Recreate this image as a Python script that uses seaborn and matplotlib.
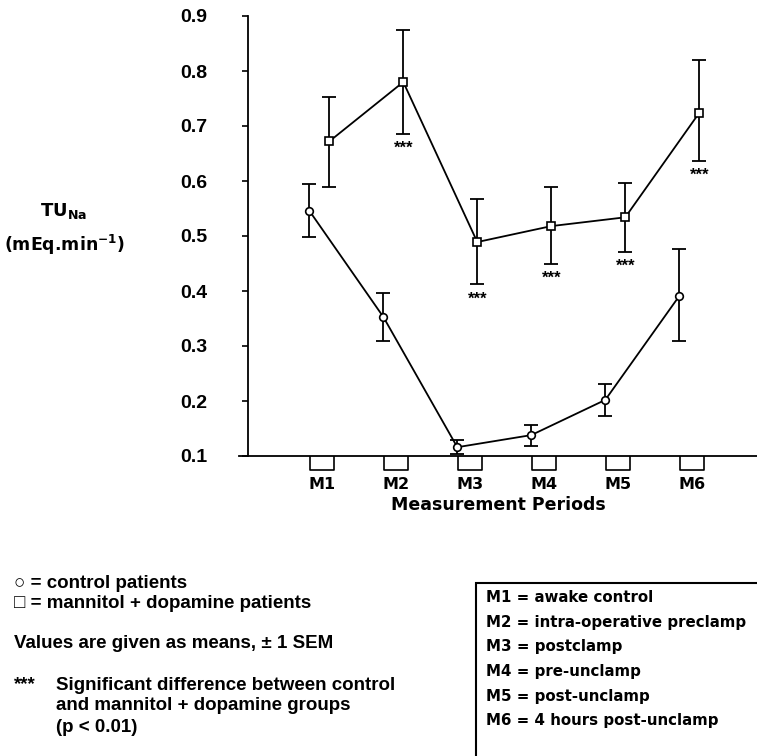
import numpy as np
import pandas as pd
import matplotlib
matplotlib.use("Agg")
import matplotlib.pyplot as plt
import seaborn as sns
from matplotlib.path import Path
from matplotlib.patches import Rectangle

# ---------------- data ----------------
periods = ["M1", "M2", "M3", "M4", "M5", "M6"]
control_mean = [0.546, 0.353, 0.116, 0.138, 0.202, 0.391]
control_upper = [0.595, 0.397, 0.129, 0.157, 0.231, 0.476]
control_lower = [0.498, 0.310, 0.104, 0.118, 0.172, 0.309]
mannitol_mean = [0.672, 0.780, 0.489, 0.518, 0.534, 0.724]
mannitol_upper = [0.753, 0.875, 0.568, 0.589, 0.597, 0.820]
mannitol_lower = [0.589, 0.685, 0.412, 0.449, 0.471, 0.636]
significant = [False, True, True, True, True, True]
y_ticks = [0.1, 0.2, 0.3, 0.4, 0.5, 0.6, 0.7, 0.8, 0.9]
period_desc = ["awake control", "intra-operative preclamp", "postclamp",
               "pre-unclamp", "post-unclamp", "4 hours post-unclamp"]

# ---------------- style ----------------
sns.set_theme(style="ticks")
plt.rcParams["font.family"] = ["DejaVu Sans"]
plt.rcParams["mathtext.fontset"] = "dejavusans"
for k in ("text.color", "axes.labelcolor", "xtick.color", "ytick.color", "axes.edgecolor"):
    plt.rcParams[k] = "black"

W, H = 757, 756
fig = plt.figure(figsize=(W / 100, H / 100), dpi=100)
fig.patch.set_facecolor("white")
ax = fig.add_axes([239 / W, 1 - 456 / H, 518 / W, 440 / H])
ax.set_facecolor("white")

pos = np.arange(1, len(periods) + 1)
off_c, off_m = -0.17, 0.10

df = pd.DataFrame({
    "x": np.concatenate([pos + off_c, pos + off_m]),
    "y": control_mean + mannitol_mean,
    "group": ["control"] * 6 + ["mannitol"] * 6,
})

# error bars
ax.errorbar(pos + off_c, control_mean,
            yerr=[np.array(control_mean) - np.array(control_lower),
                  np.array(control_upper) - np.array(control_mean)],
            fmt="none", ecolor="black", elinewidth=1.3, capsize=5, capthick=1.3, zorder=2)
ax.errorbar(pos + off_m, mannitol_mean,
            yerr=[np.array(mannitol_mean) - np.array(mannitol_lower),
                  np.array(mannitol_upper) - np.array(mannitol_mean)],
            fmt="none", ecolor="black", elinewidth=1.3, capsize=5, capthick=1.3, zorder=2)

sns.lineplot(data=df, x="x", y="y", hue="group", style="group",
             markers={"control": "o", "mannitol": "s"}, dashes=False,
             palette={"control": "black", "mannitol": "black"},
             legend=False, ax=ax, lw=1.3, markersize=5.5,
             markerfacecolor="white", markeredgecolor="black",
             markeredgewidth=1.2, zorder=3)

# significance stars
for xi, lo, sig in zip(pos + off_m, mannitol_lower, significant):
    if sig:
        ax.annotate("***", (xi, lo), xytext=(0, -5), textcoords="offset points",
                    ha="center", va="top", fontsize=12, fontweight="bold",
                    family=["Liberation Sans", "DejaVu Sans"])

# axes
ax.set_xlim(-0.12, 6.88)
ax.set_ylim(0.1, 0.9)
ax.spines["top"].set_visible(False)
ax.spines["right"].set_visible(False)
ax.spines["left"].set_position(("data", 0))
for s in ("left", "bottom"):
    ax.spines[s].set_linewidth(1.3)
    ax.spines[s].set_color("black")

ax.set_yticks(y_ticks)
ax.set_yticklabels([f"{v:.1f}" for v in y_ticks], fontsize=14, fontweight="bold",
                   family=["Liberation Sans", "DejaVu Sans"])
ax.tick_params(axis="y", direction="out", length=4.5, width=1.2, pad=25, colors="black")

ax.set_xticks(pos)
ax.set_xticklabels(periods, fontsize=11.5, fontweight="bold")
ax.tick_params(axis="x", length=0, pad=15, colors="black")

# box-shaped tick marks under the axis
box_path = Path([(-1, 0), (-1, -1.2), (1, -1.2), (1, 0)],
                [Path.MOVETO, Path.LINETO, Path.LINETO, Path.LINETO])
ax.plot(pos, [y_ticks[0]] * len(pos), ls="none", marker=box_path, ms=20,
        mfc="none", mec="black", mew=1.2, clip_on=False, zorder=4)

ax.set_xlabel("Measurement Periods", fontsize=12.5, fontweight="bold", labelpad=3,
              color="black")
ax.set_ylabel("")

# y label (two lines)
fig.text(64 / W, 1 - 211 / H, r"TU$_{\mathbf{Na}}$", ha="center", va="center",
         fontsize=13, fontweight="bold")
fig.text(65 / W, 1 - 245 / H, r"(mEq.min$^{\mathbf{-1}}$)", ha="center", va="center",
         fontsize=12.5, fontweight="bold")

# notes (bottom left)
note_font = dict(family=["Liberation Sans", "DejaVu Sans"], fontsize=13.5, color="black",
                 va="center", ha="left", fontweight="bold")
x0 = 14
fig.text(x0 / W, 1 - 583 / H, "\u25CB = control patients", **note_font)
fig.text(x0 / W, 1 - 604 / H, "\u25A1 = mannitol + dopamine patients", **note_font)
fig.text(x0 / W, 1 - 644 / H, "Values are given as means, \u00B1 1 SEM", **note_font)
fig.text(x0 / W, 1 - 685 / H, "***", **note_font)
fig.text((x0 + 42) / W, 1 - 685 / H, "Significant difference between control", **note_font)
fig.text((x0 + 42) / W, 1 - 706 / H, "and mannitol + dopamine groups", **note_font)
fig.text((x0 + 42) / W, 1 - 727 / H, "(p < 0.01)", **note_font)

# period definitions box
fig.patches.append(Rectangle((476 / W, -0.05), 0.6, (1 - 583 / H) + 0.05,
                             transform=fig.transFigure, fill=False,
                             edgecolor="black", lw=1.5, clip_on=False))
for i, (p, d) in enumerate(zip(periods, period_desc)):
    fig.text(486 / W, 1 - (598 + 24.5 * i) / H, f"{p} = {d}", ha="left", va="center",
             fontsize=10.8, fontweight="bold", color="black")

fig.savefig("out.png", dpi=100, facecolor="white")
